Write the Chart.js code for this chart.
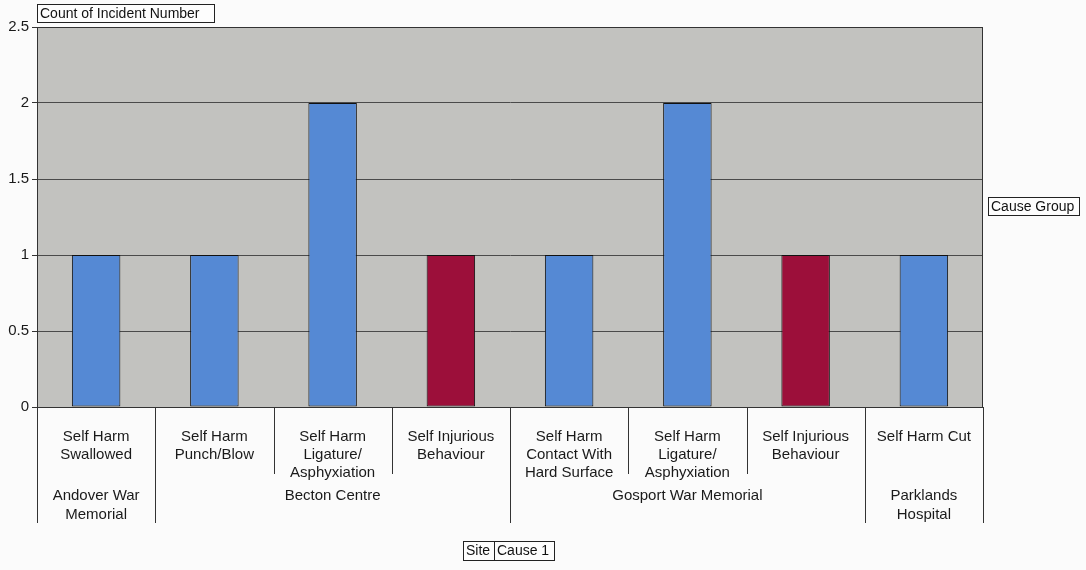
<!DOCTYPE html>
<html>
<head>
<meta charset="utf-8">
<script src="https://cdn.jsdelivr.net/npm/chart.js@4"></script>
<style>
html,body{margin:0;padding:0;background:#fbfbfb;}
#wrap{width:1086px;height:570px;position:relative;}
</style>
</head>
<body>
<div id="wrap"><canvas id="c" width="1086" height="570"></canvas></div>
<script>
const causeLabels = [
  ["Self Harm","Swallowed"],
  ["Self Harm","Punch/Blow"],
  ["Self Harm","Ligature/","Asphyxiation"],
  ["Self Injurious","Behaviour"],
  ["Self Harm","Contact With","Hard Surface"],
  ["Self Harm","Ligature/","Asphyxiation"],
  ["Self Injurious","Behaviour"],
  ["Self Harm Cut"]
];
const siteGroups = [
  {label:["Andover War","Memorial"], start:0, end:0},
  {label:["Becton Centre"], start:1, end:3},
  {label:["Gosport War Memorial"], start:4, end:6},
  {label:["Parklands","Hospital"], start:7, end:7}
];
const selfHarmValues      = [1, 1, 2, null, 1, 2, null, 1];
const selfInjuriousValues = [null, null, null, 1, null, null, 1, null];
const yTicks = [0, 0.5, 1, 1.5, 2, 2.5];
const yTickLabels = ["0", "0.5", "1", "1.5", "2", "2.5"];

const FONT = '"Liberation Sans", Arial, sans-serif';

const decor = {
  id:'decor',
  beforeDraw(chart){
    const {ctx, chartArea:a} = chart;
    ctx.save();
    ctx.fillStyle = '#c2c2bf';
    ctx.fillRect(a.left, a.top, a.right-a.left, a.bottom-a.top);
    ctx.restore();
  },
  afterDraw(chart){
    const {ctx, chartArea:a, scales:{x}} = chart;
    ctx.save();
    ctx.strokeStyle = '#333';
    ctx.lineWidth = 1;
    ctx.strokeRect(a.left+0.5, a.top+0.5, a.right-a.left-1, a.bottom-a.top);
    const half = (x.getPixelForValue(1) - x.getPixelForValue(0))/2;
    const edge = i => Math.round(x.getPixelForValue(i) - half) + 0.5;
    ctx.strokeStyle = '#333';
    siteGroups.forEach(g=>{
      for(let i=g.start+1;i<=g.end;i++){
        ctx.beginPath(); ctx.moveTo(edge(i), a.bottom); ctx.lineTo(edge(i), a.bottom+67); ctx.stroke();
      }
    });
    const bounds = siteGroups.map(g=>g.start).concat([causeLabels.length]);
    bounds.forEach(i=>{
      ctx.beginPath(); ctx.moveTo(edge(i), a.bottom); ctx.lineTo(edge(i), a.bottom+116); ctx.stroke();
    });
    ctx.fillStyle = '#1a1a1a';
    ctx.font = '15px ' + FONT;
    ctx.textAlign = 'center';
    ctx.textBaseline = 'middle';
    siteGroups.forEach(g=>{
      const cx = (x.getPixelForValue(g.start) + x.getPixelForValue(g.end))/2;
      g.label.forEach((t,k)=> ctx.fillText(t, cx, a.bottom + 89 + k*19));
    });
    const box = (t, x0, y0, w, h) => {
      ctx.fillStyle = '#fdfdfd';
      ctx.fillRect(x0, y0, w, h);
      ctx.strokeStyle = '#222';
      ctx.strokeRect(x0+0.5, y0+0.5, w, h);
      ctx.fillStyle = '#111';
      ctx.textAlign = 'left';
      ctx.fillText(t, x0+3, y0 + h/2 + 1);
    };
    ctx.font = '14px ' + FONT;
    box('Count of Incident Number', 37, 4, 177, 18);
    box('Cause Group', 988, 197, 91, 18);
    box('Site', 463, 541, 31, 19);
    box('Cause 1', 494, 541, 60, 19);
    ctx.restore();
  }
};

new Chart(document.getElementById('c'), {
  type:'bar',
  data:{
    labels: causeLabels,
    datasets:[
      {label:'Self Harm', data:selfHarmValues, backgroundColor:'#5589d4', borderColor:'#111', borderWidth:1, borderSkipped:false},
      {label:'Self Injurious', data:selfInjuriousValues, backgroundColor:'#9c0f3a', borderColor:'#111', borderWidth:1, borderSkipped:false}
    ]
  },
  options:{
    responsive:false,
    animation:false,
    layout:{padding:{top:27,right:103,bottom:0,left:0}},
    plugins:{legend:{display:false}, tooltip:{enabled:false}},
    datasets:{bar:{categoryPercentage:1, barPercentage:0.41}},
    scales:{
      x:{
        stacked:true,
        grid:{display:false},
        border:{display:false},
        ticks:{color:'#1a1a1a', font:{family:FONT, size:15}, padding:13, maxRotation:0, autoSkip:false},
        afterFit(s){ s.height = 163; }
      },
      y:{
        stacked:true,
        min:0, max:2.5,
        afterBuildTicks(s){ s.ticks = yTicks.map(v=>({value:v})); },
        grid:{color:'#4a4a4a', lineWidth:1, tickLength:5, tickColor:'#333'},
        border:{display:true, color:'#333'},
        ticks:{color:'#1a1a1a', font:{family:FONT, size:15}, padding:3,
          callback:(v)=>{ const i = yTicks.indexOf(v); return i>=0 ? yTickLabels[i] : ''; }},
        afterFit(s){ s.width = 37; }
      }
    }
  },
  plugins:[decor]
});
</script>
</body>
</html>
